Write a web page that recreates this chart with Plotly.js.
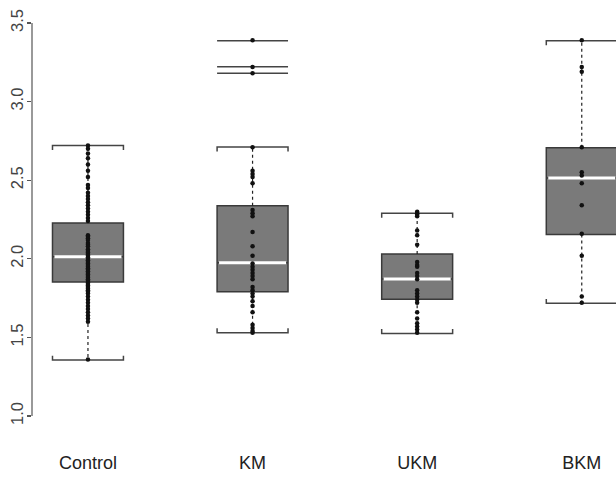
<!DOCTYPE html>
<html>
<head>
<meta charset="utf-8">
<script src="https://cdn.plot.ly/plotly-3.0.1.min.js"></script>
<style>
  html, body { margin: 0; padding: 0; background: #ffffff; }
  #chart { width: 616px; height: 478px; }
</style>
</head>
<body>
<div id="chart"></div>
<script>
// ---- data ----
const categories = ['Control', 'KM', 'UKM', 'BKM'];
const q1Values = [1.852, 1.791, 1.742, 2.155];
const medianValues = [2.013, 1.975, 1.872, 2.514];
const q3Values = [2.228, 2.338, 2.031, 2.707];
const whiskerLow = [1.356, 1.530, 1.525, 1.717];
const whiskerHigh = [2.720, 2.711, 2.289, 3.387];
const outlierLines = [[], [3.387, 3.222, 3.180], [], []];

const controlPoints = [2.72, 2.70, 2.67, 2.64, 2.60, 2.56, 2.52, 2.47, 2.45, 2.42, 2.40, 2.38, 2.36, 2.34,
  2.32, 2.30, 2.28, 2.26, 2.24, 2.15, 2.14, 2.13, 2.12, 2.10, 2.09, 2.08, 2.06, 2.05, 2.04, 2.03,
  2.02, 2.01, 2.00, 1.99, 1.98, 1.97, 1.96, 1.95, 1.94, 1.93, 1.92, 1.91, 1.90, 1.89, 1.88, 1.87,
  1.86, 1.85, 1.84, 1.83, 1.82, 1.81, 1.80, 1.79, 1.78, 1.76, 1.74, 1.72, 1.70, 1.68, 1.66, 1.64,
  1.62, 1.60, 1.36];
const kmPoints = [3.39, 3.22, 3.18, 2.71, 2.56, 2.54, 2.52, 2.48, 2.31, 2.29, 2.27, 2.17, 2.08, 2.02,
  1.97, 1.95, 1.93, 1.91, 1.89, 1.87, 1.82, 1.80, 1.78, 1.76, 1.73, 1.70, 1.66, 1.58, 1.56, 1.54, 1.53];
const ukmPoints = [2.30, 2.29, 2.28, 2.27, 2.18, 2.15, 2.09, 1.98, 1.96, 1.95, 1.91, 1.89, 1.87, 1.80,
  1.78, 1.76, 1.74, 1.72, 1.66, 1.62, 1.59, 1.57, 1.55, 1.53];
const bkmPoints = [3.39, 3.22, 3.19, 2.71, 2.55, 2.53, 2.48, 2.34, 2.16, 2.02, 1.76, 1.72];
const groupPoints = [controlPoints, kmPoints, ukmPoints, bkmPoints];

const yTickValues = [1.0, 1.5, 2.0, 2.5, 3.0, 3.5];
const yTickLabels = ['1.0', '1.5', '2.0', '2.5', '3.0', '3.5'];

// ---- styling ----
const boxWidth = 0.431;
const halfW = boxWidth / 2;
const stapleTick = 0.028;
const boxFill = '#7a7a7a';
const edgeColor = '#3a3a3a';

const traces = [];

// boxes
categories.forEach((c, i) => {
  traces.push({
    type: 'box',
    x: [i + 1],
    q1: [q1Values[i]],
    median: [medianValues[i]],
    q3: [q3Values[i]],
    lowerfence: [q1Values[i]],
    upperfence: [q3Values[i]],
    width: boxWidth,
    fillcolor: boxFill,
    line: { color: edgeColor, width: 1.5 },
    boxpoints: false,
    hoverinfo: 'skip',
    showlegend: false
  });
});

// dotted whiskers
const wx = [], wy = [];
categories.forEach((c, i) => {
  wx.push(i + 1, i + 1, null, i + 1, i + 1, null);
  wy.push(q3Values[i], whiskerHigh[i], null, q1Values[i], whiskerLow[i], null);
});
traces.push({
  type: 'scatter', mode: 'lines', x: wx, y: wy,
  line: { color: '#222222', width: 1.2, dash: 'dot' },
  hoverinfo: 'skip', showlegend: false
});

// staples (bracket-shaped) and outlier lines
const sx = [], sy = [];
categories.forEach((c, i) => {
  const x0 = i + 1 - halfW, x1 = i + 1 + halfW;
  sx.push(x0, x0, x1, x1, null);
  sy.push(whiskerHigh[i] - stapleTick, whiskerHigh[i], whiskerHigh[i], whiskerHigh[i] - stapleTick, null);
  sx.push(x0, x0, x1, x1, null);
  sy.push(whiskerLow[i] + stapleTick, whiskerLow[i], whiskerLow[i], whiskerLow[i] + stapleTick, null);
  outlierLines[i].forEach(v => {
    sx.push(x0, x1, null);
    sy.push(v, v, null);
  });
});
traces.push({
  type: 'scatter', mode: 'lines', x: sx, y: sy,
  line: { color: '#444444', width: 1.5 },
  hoverinfo: 'skip', showlegend: false
});

// white medians
const mx = [], my = [];
categories.forEach((c, i) => {
  mx.push(i + 1 - halfW + 0.012, i + 1 + halfW - 0.012, null);
  my.push(medianValues[i], medianValues[i], null);
});
traces.push({
  type: 'scatter', mode: 'lines', x: mx, y: my,
  line: { color: '#ffffff', width: 3 },
  hoverinfo: 'skip', showlegend: false
});

// points
categories.forEach((c, i) => {
  traces.push({
    type: 'scatter', mode: 'markers',
    x: groupPoints[i].map(() => i + 1),
    y: groupPoints[i],
    marker: { color: '#111111', size: 4.5 },
    hoverinfo: 'skip', showlegend: false
  });
});

const layout = {
  width: 616, height: 478,
  margin: { l: 32, r: 0, t: 10, b: 28 },
  paper_bgcolor: '#ffffff', plot_bgcolor: '#ffffff',
  showlegend: false,
  xaxis: {
    range: [0.66, 4.208],
    tickvals: [1, 2, 3, 4],
    ticktext: categories,
    showgrid: false, zeroline: false, showline: false, ticks: '',
    tickfont: { family: 'Liberation Sans, Arial, sans-serif', size: 18, color: '#222222' }
  },
  yaxis: {
    range: [0.7837, 3.5827],
    tickvals: yTickValues,
    ticktext: yTickLabels,
    tickangle: -90,
    ticks: 'outside', ticklen: 4, tickwidth: 1.2, tickcolor: '#555555',
    ticklabelstandoff: -3,
    showgrid: false, zeroline: false, showline: false,
    tickfont: { family: 'Liberation Sans, Arial, sans-serif', size: 16.5, color: '#444444' }
  },
  shapes: [{
    type: 'line', xref: 'paper', yref: 'y',
    x0: 0, x1: 0, y0: yTickValues[0], y1: yTickValues[yTickValues.length - 1],
    line: { color: '#555555', width: 1.2 }
  }]
};

Plotly.newPlot('chart', traces, layout, { displayModeBar: false, staticPlot: true });
</script>
</body>
</html>
